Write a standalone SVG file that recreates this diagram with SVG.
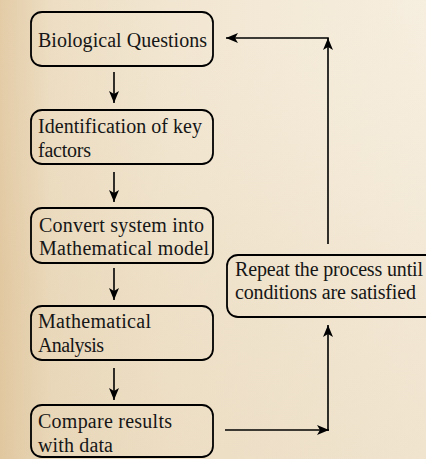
<svg xmlns="http://www.w3.org/2000/svg" width="426" height="459" viewBox="0 0 426 459">
<defs>
<linearGradient id="bg" x1="0" y1="0" x2="1" y2="0">
<stop offset="0" stop-color="#e2c9a2"/>
<stop offset="0.12" stop-color="#ecdcc0"/>
<stop offset="0.4" stop-color="#f1e5cf"/>
<stop offset="1" stop-color="#f6eddd"/>
</linearGradient>
<linearGradient id="bg2" x1="0" y1="0" x2="0" y2="1">
<stop offset="0" stop-color="#ffffff" stop-opacity="0.05"/>
<stop offset="0.6" stop-color="#d9bf95" stop-opacity="0.12"/>
<stop offset="1" stop-color="#d9bf95" stop-opacity="0.2"/>
</linearGradient>
<marker id="ah" viewBox="0 0 12 10" refX="12" refY="5" markerWidth="12" markerHeight="10" markerUnits="userSpaceOnUse" orient="auto">
<path d="M0,0 L12,5 L0,10 L3,5 Z" fill="#000"/>
</marker>
<style>
.box{fill:none;stroke:#000;stroke-width:1.8}
.t{font-family:"Liberation Serif","Times New Roman",serif;font-size:20px;fill:#161616}
.c{stroke:#000;stroke-width:1.6;fill:none;marker-end:url(#ah)}
</style>
</defs>
<rect width="426" height="459" fill="url(#bg)"/>
<rect width="426" height="459" fill="url(#bg2)"/>
<g id="n1"><rect class="box" x="31" y="12" width="182" height="54" rx="11"/><text class="t" x="38" y="47" textLength="169">Biological Questions</text></g>
<g id="n2"><rect class="box" x="31" y="110" width="182" height="54" rx="11"/><text class="t" x="38" y="133" textLength="164">Identification of key</text><text class="t" x="38" y="157" textLength="53">factors</text></g>
<g id="n3"><rect class="box" x="31" y="208" width="182" height="55" rx="11"/><text class="t" x="39" y="232" textLength="165">Convert system into</text><text class="t" x="39" y="255" textLength="170">Mathematical model</text></g>
<g id="n4"><rect class="box" x="31" y="306" width="182" height="54" rx="11"/><text class="t" x="38" y="328" textLength="113">Mathematical</text><text class="t" x="38" y="352" textLength="66">Analysis</text></g>
<g id="n5"><rect class="box" x="31" y="405" width="182" height="52" rx="11"/><text class="t" x="38" y="428" textLength="134">Compare results</text><text class="t" x="38" y="452" textLength="75">with data</text></g>
<g id="n6"><rect class="box" x="227" y="255" width="240" height="62" rx="11"/><text class="t" x="235" y="276" textLength="188">Repeat the process until</text><text class="t" x="235" y="299" textLength="181">conditions are satisfied</text></g>
<g id="connectors">
<line class="c" x1="114" y1="72" x2="114" y2="103"/>
<line class="c" x1="114" y1="172" x2="114" y2="202"/>
<line class="c" x1="114" y1="268" x2="114" y2="300"/>
<line class="c" x1="114" y1="368" x2="114" y2="400"/>
<line class="c" x1="225" y1="430" x2="329" y2="430"/>
<line class="c" x1="328" y1="430.8" x2="328" y2="325"/>
<line class="c" x1="328" y1="244" x2="328" y2="38"/>
<line class="c" x1="328.8" y1="38" x2="226" y2="38"/>
</g>
</svg>
